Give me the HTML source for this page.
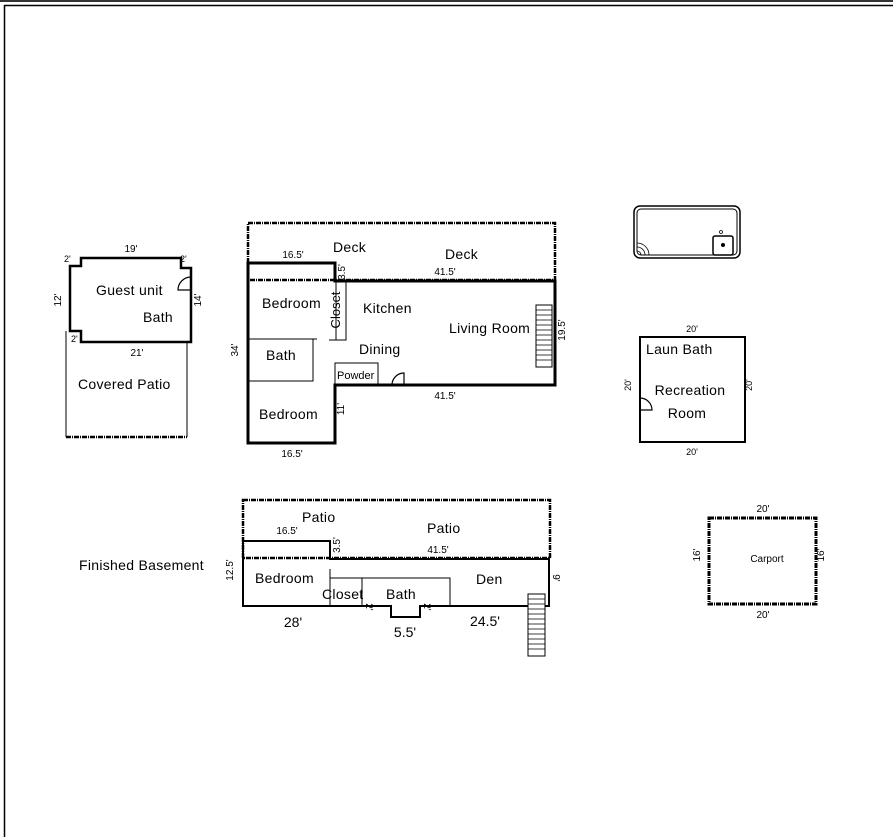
<!DOCTYPE html>
<html><head><style>
html,body{margin:0;padding:0;background:#fff;}
svg{display:block;}
text{font-family:"Liberation Sans","DejaVu Sans",sans-serif;fill:#000;}
.l{letter-spacing:0.3px;}
</style></head><body>
<svg width="893" height="837" viewBox="0 0 893 837" xmlns="http://www.w3.org/2000/svg">
<rect x="0" y="0" width="893" height="2" fill="#333"/>
<line x1="4" y1="5.5" x2="893" y2="5.5" stroke="#000" stroke-width="1.5"/>
<line x1="4.5" y1="5" x2="4.5" y2="837" stroke="#000" stroke-width="1.5"/>

<g fill="none" stroke="#000">
<path d="M81,258 H181 V268 H191 V342 H81 V331 H70 V266 H81 Z" stroke-width="2.5"/>
<line x1="66" y1="331" x2="66" y2="437" stroke-width="1"/>
<line x1="187" y1="342" x2="187" y2="437" stroke-width="1"/>
<line x1="66" y1="437" x2="187" y2="437" stroke-width="2.5" stroke-dasharray="5,1,1,1"/>
<path d="M191,277 A13,13 0 0 0 178,290 H191" stroke-width="1.2"/>

<rect x="248" y="223" width="307" height="57" stroke-width="2.5" stroke-dasharray="5,1,1,1"/>
<path d="M248,263 H335 V281 H555 V385 H335 V443 H248 Z" stroke-width="3"/>
<rect x="336" y="281" width="10" height="59" stroke-width="1"/>
<rect x="248" y="339" width="65" height="42" stroke-width="1"/>
<line x1="313" y1="339" x2="317" y2="339" stroke-width="1"/>
<line x1="329" y1="340" x2="336" y2="340" stroke-width="1"/>
<rect x="335" y="363" width="43" height="22" stroke-width="1"/>
<path d="M392,385 A12,12 0 0 1 404,373 V385" stroke-width="1.2"/>
<rect x="536" y="305" width="16" height="62" stroke-width="1"/>
<path d="M536,310 H552 M536,315 H552 M536,320 H552 M536,325 H552 M536,330 H552 M536,335 H552 M536,340 H552 M536,345 H552 M536,350 H552 M536,355 H552 M536,360 H552" stroke-width="0.8"/>

<rect x="634" y="206" width="106" height="52" rx="6" stroke-width="1.5"/>
<rect x="637" y="209" width="100" height="46" rx="4" stroke-width="1"/>
<rect x="713" y="236" width="20" height="19" rx="2" stroke-width="1.5"/>
<circle cx="723" cy="245" r="1.5" fill="#000"/>
<circle cx="721" cy="232" r="1.5" stroke-width="0.8"/>
<path d="M637,243 A12,12 0 0 1 649,255 M637,247 A8,8 0 0 1 645,255 M637,251 A4,4 0 0 1 641,255" stroke-width="0.8"/>

<rect x="640" y="337" width="105" height="105" stroke-width="2"/>
<path d="M640,398 A12,12 0 0 1 652,410 H640" stroke-width="1.2"/>

<rect x="243" y="500" width="307" height="58" stroke-width="2.5" stroke-dasharray="5,1,1,1"/>
<path d="M243,541 H330 V559 H549 V606 H420 V617 H391 V606 H243 Z" stroke-width="2"/>
<line x1="330" y1="569" x2="330" y2="606" stroke-width="1"/>
<path d="M330,578 H450 V606 M362,578 V606" stroke-width="1"/>
<rect x="528" y="594" width="17" height="62" stroke-width="1" fill="#fff"/>
<path d="M528,599 H545 M528,604 H545 M528,609 H545 M528,614 H545 M528,619 H545 M528,624 H545 M528,629 H545 M528,634 H545 M528,639 H545 M528,644 H545 M528,649 H545" stroke-width="0.8"/>

<rect x="709" y="518" width="107" height="86" stroke-width="3" stroke-dasharray="5,1,1,1"/>
</g>

<text x="131" y="252" font-size="10" text-anchor="middle">19'</text>
<text x="64" y="262" font-size="9">2'</text>
<text x="180" y="262" font-size="9">2'</text>
<text x="61" y="300" font-size="10" transform="rotate(-90 61 300)" text-anchor="middle">12'</text>
<text x="201" y="300" font-size="10" transform="rotate(-90 201 300)" text-anchor="middle">14'</text>
<text x="71" y="342" font-size="9">2'</text>
<text x="137" y="356" font-size="10" text-anchor="middle">21'</text>
<text class="l" x="96" y="295" font-size="14">Guest unit</text>
<text class="l" x="143" y="322" font-size="14">Bath</text>
<text class="l" x="78" y="389" font-size="14">Covered Patio</text>

<text x="293" y="258" font-size="10" text-anchor="middle">16.5'</text>
<text class="l" x="333" y="252" font-size="14">Deck</text>
<text class="l" x="445" y="259" font-size="14">Deck</text>
<text x="445" y="275" font-size="10" text-anchor="middle">41.5'</text>
<text x="345" y="272" font-size="10" transform="rotate(-90 345 272)" text-anchor="middle">3.5'</text>
<text class="l" x="262" y="308" font-size="14">Bedroom</text>
<text x="340" y="310" font-size="13" transform="rotate(-90 340 310)" text-anchor="middle">Closet</text>
<text class="l" x="363" y="313" font-size="14">Kitchen</text>
<text class="l" x="449" y="333" font-size="14">Living Room</text>
<text x="565" y="330" font-size="10" transform="rotate(-90 565 330)" text-anchor="middle">19.5'</text>
<text x="238" y="350" font-size="10" transform="rotate(-90 238 350)" text-anchor="middle">34'</text>
<text class="l" x="266" y="360" font-size="14">Bath</text>
<text class="l" x="359" y="354" font-size="14">Dining</text>
<text x="337" y="379" font-size="11">Powder</text>
<text x="445" y="399" font-size="10" text-anchor="middle">41.5'</text>
<text x="344" y="409" font-size="10" transform="rotate(-90 344 409)" text-anchor="middle">11'</text>
<text class="l" x="259" y="419" font-size="14">Bedroom</text>
<text x="292" y="457" font-size="10" text-anchor="middle">16.5'</text>

<text x="692" y="332" font-size="9" text-anchor="middle">20'</text>
<text class="l" x="646" y="354" font-size="14">Laun Bath</text>
<text x="631" y="385" font-size="9" transform="rotate(-90 631 385)" text-anchor="middle">20'</text>
<text x="752" y="385" font-size="9" transform="rotate(-90 752 385)" text-anchor="middle">20'</text>
<text class="l" x="690" y="395" font-size="14" text-anchor="middle">Recreation</text>
<text class="l" x="687" y="418" font-size="14" text-anchor="middle">Room</text>
<text x="692" y="455" font-size="9" text-anchor="middle">20'</text>

<text class="l" x="302" y="522" font-size="14">Patio</text>
<text class="l" x="427" y="533" font-size="14">Patio</text>
<text x="287" y="534" font-size="10" text-anchor="middle">16.5'</text>
<text x="438" y="553" font-size="10" text-anchor="middle">41.5'</text>
<text x="340" y="545" font-size="10" transform="rotate(-90 340 545)" text-anchor="middle">3.5'</text>
<text class="l" x="79" y="570" font-size="14">Finished Basement</text>
<text x="233" y="570" font-size="10" transform="rotate(-90 233 570)" text-anchor="middle">12.5'</text>
<text class="l" x="255" y="583" font-size="14">Bedroom</text>
<text class="l" x="476" y="584" font-size="14">Den</text>
<text x="553" y="578" font-size="10" transform="rotate(90 553 578)" text-anchor="middle">9'</text>
<text class="l" x="322" y="599" font-size="14">Closet</text>
<text class="l" x="386" y="599" font-size="14">Bath</text>
<text x="366" y="607" font-size="10" transform="rotate(90 366 607)" text-anchor="middle">2'</text>
<text x="424" y="607" font-size="10" transform="rotate(90 424 607)" text-anchor="middle">2'</text>
<text x="293" y="627" font-size="14" text-anchor="middle">28'</text>
<text x="405" y="637" font-size="14" text-anchor="middle">5.5'</text>
<text x="485" y="626" font-size="14" text-anchor="middle">24.5'</text>

<text x="763" y="512" font-size="10" text-anchor="middle">20'</text>
<text x="700" y="555" font-size="10" transform="rotate(-90 700 555)" text-anchor="middle">16'</text>
<text x="767" y="562" font-size="10" text-anchor="middle">Carport</text>
<text x="824" y="555" font-size="10" transform="rotate(-90 824 555)" text-anchor="middle">16'</text>
<text x="763" y="618" font-size="10" text-anchor="middle">20'</text>
</svg>
</body></html>
